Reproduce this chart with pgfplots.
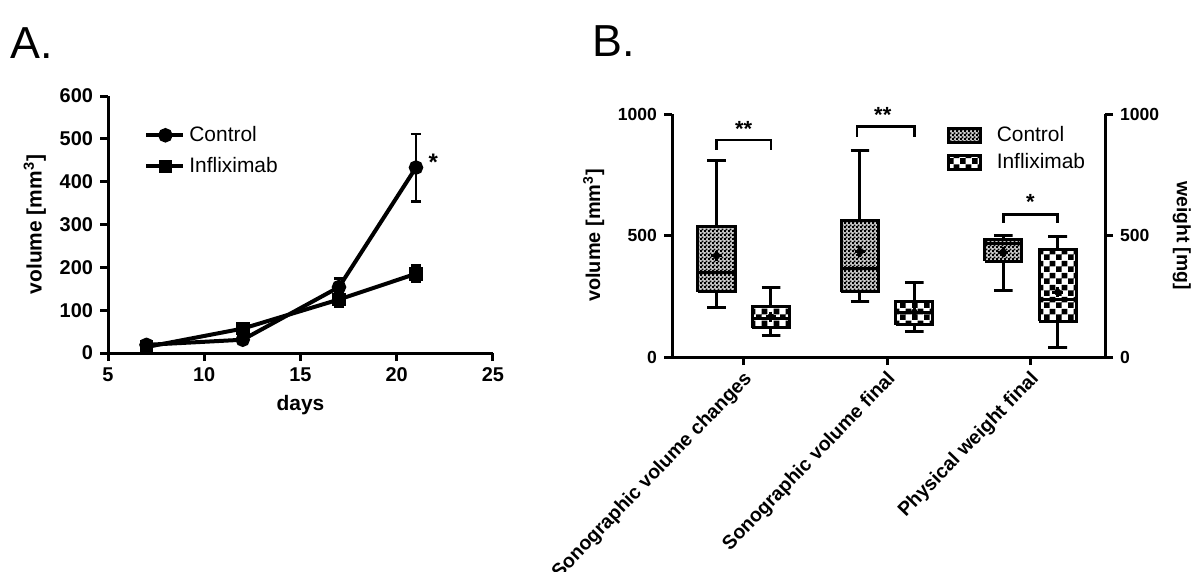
\documentclass[border=0pt]{standalone}
\usepackage{fontspec}
\setmainfont{Liberation Sans}
\usepackage{pgfplots}
\pgfplotsset{compat=1.18}
\usetikzlibrary{patterns}
\pgfdeclarepatternformonly{finecheck}{\pgfpointorigin}{\pgfpoint{2bp}{2bp}}{\pgfpoint{2bp}{2bp}}{%
  \pgfpathrectangle{\pgfpointorigin}{\pgfpoint{1.1bp}{1.1bp}}%
  \pgfpathrectangle{\pgfpoint{1bp}{1bp}}{\pgfpoint{1.1bp}{1.1bp}}%
  \pgfusepath{fill}}
\pgfdeclarepatternformonly{coarsecheck}{\pgfpointorigin}{\pgfpoint{6bp}{6bp}}{\pgfpoint{6bp}{6bp}}{%
  \pgfpathrectangle{\pgfpointorigin}{\pgfpoint{3bp}{3bp}}%
  \pgfpathrectangle{\pgfpoint{3bp}{3bp}}{\pgfpoint{3bp}{3bp}}%
  \pgfusepath{fill}}
\tikzset{ctrlfill/.style={fill=gray!40, postaction={pattern=finecheck}}}
\pgfplotsset{
  common/.style={
    scale only axis,
    axis line style={line width=1.5bp, black},
    tick style={line width=1.5bp, black},
    major tick length=4bp,
    tick align=outside,
    /pgf/number format/assume math mode=true,
    /pgf/number format/1000 sep={},
  },
  bx/.style={black, line width=1.5bp, forget plot, mark=none, line join=miter},
}
\begin{document}
\begin{tikzpicture}
\useasboundingbox (0,0) rectangle (600bp,-286bp);
\node[anchor=base west, inner sep=0pt, font=\fontsize{22.5}{24}\selectfont] at (5bp,-29bp) {A.};
\node[anchor=base west, inner sep=0pt, font=\fontsize{22.5}{24}\selectfont] at (296bp,-28bp) {B.};

% ---------------- Panel A ----------------
\begin{axis}[common,
  at={(54bp,-176.5bp)}, anchor=south west,
  width=192.5bp, height=128.5bp,
  xmin=5, xmax=25, ymin=0, ymax=600,
  axis x line*=bottom, axis y line*=left,
  xtick={5,10,15,20,25}, ytick={0,100,...,600},
  tick label style={font=\bfseries\fontsize{10}{10}\selectfont},
  label style={font=\bfseries\fontsize{10.5}{12}\selectfont},
  xlabel={days}, ylabel={volume [mm\textsuperscript{3}]},
  clip=false,
  legend style={at={(0.078,0.915)}, anchor=north west, draw=none, fill=none,
    font=\fontsize{10.5}{12}\selectfont, row sep=2.5bp},
  legend cell align=left,
  legend image code/.code={\draw[mark repeat=2, mark phase=2, #1] plot coordinates {(0bp,0bp)(9.5bp,0bp)(18.5bp,0bp)};},
]
\addplot[black, line width=2bp, mark=*, mark size=2.6bp,
  error bars/.cd, y dir=both, y explicit,
  error bar style={line width=1.2bp, solid},
  error mark options={rotate=90, mark size=2.6bp, line width=1.2bp}]
  coordinates {(7,19) +- (0,3) (12,31) +- (0,4) (17,154) +- (0,20) (21,433) +- (0,79)};
\addlegendentry{Control}
\addplot[black, line width=2bp, mark=square*, mark size=2.4bp,
  error bars/.cd, y dir=both, y explicit,
  error bar style={line width=1.2bp, solid},
  error mark options={rotate=90, mark size=2.6bp, line width=1.2bp}]
  coordinates {(7,14) +- (0,3) (12,57) +- (0,5) (17,125) +- (0,18) (21,185) +- (0,19)};
\addlegendentry{Infliximab}
\node[font=\bfseries\fontsize{12}{12}\selectfont] at (axis cs:21.9,445) {*};
\end{axis}

% ---------------- Panel B ----------------
\begin{axis}[common,
  at={(336bp,-178.5bp)}, anchor=south west,
  width=216.5bp, height=121.5bp,
  xmin=0.5, xmax=3.52, ymin=0, ymax=1000,
  axis x line*=bottom, axis y line*=left,
  xtick={1,2,3}, ytick={0,500,1000},
  xticklabels={Sonographic volume changes, Sonographic volume final, Physical weight final},
  x tick label style={rotate=46, anchor=north east, inner sep=1bp, xshift=-1bp, font=\bfseries\fontsize{9.8}{10}\selectfont},
  y tick label style={font=\bfseries\fontsize{8.8}{9}\selectfont},
  label style={font=\bfseries\fontsize{10}{12}\selectfont},
  ylabel={volume [mm\textsuperscript{3}]},
  clip=false,
  legend style={at={(0.621,0.985)}, anchor=north west, draw=none, fill=none,
    font=\fontsize{10.5}{12}\selectfont, row sep=0.5bp},
  legend cell align=left,
]
% ---- Control, Sonographic volume changes (pos 0.81)
\addplot[bx] coordinates {(0.745,203)(0.875,203)(0.81,203)(0.81,269)};
\addplot[bx] coordinates {(0.745,810)(0.875,810)(0.81,810)(0.81,536)};
\addplot[bx, ctrlfill] coordinates {(0.68,269)(0.94,269)(0.94,536)(0.68,536)(0.68,269)};
\addplot[bx] coordinates {(0.68,346)(0.94,346)};
% ---- Infliximab, Sonographic volume changes (pos 1.19)
\addplot[bx] coordinates {(1.125,89)(1.255,89)(1.19,89)(1.19,121)};
\addplot[bx] coordinates {(1.125,288)(1.255,288)(1.19,288)(1.19,206)};
\addplot[bx, pattern=coarsecheck] coordinates {(1.06,121)(1.32,121)(1.32,206)(1.06,206)(1.06,121)};
\addplot[bx] coordinates {(1.06,158)(1.32,158)};
% ---- Control, Sonographic volume final (pos 1.81)
\addplot[bx] coordinates {(1.745,227)(1.875,227)(1.81,227)(1.81,269)};
\addplot[bx] coordinates {(1.745,849)(1.875,849)(1.81,849)(1.81,563)};
\addplot[bx, ctrlfill] coordinates {(1.68,269)(1.94,269)(1.94,563)(1.68,563)(1.68,269)};
\addplot[bx] coordinates {(1.68,364)(1.94,364)};
% ---- Infliximab, Sonographic volume final (pos 2.19)
\addplot[bx] coordinates {(2.125,107)(2.255,107)(2.19,107)(2.19,133)};
\addplot[bx] coordinates {(2.125,306)(2.255,306)(2.19,306)(2.19,227)};
\addplot[bx, pattern=coarsecheck] coordinates {(2.06,133)(2.32,133)(2.32,227)(2.06,227)(2.06,133)};
\addplot[bx] coordinates {(2.06,185)(2.32,185)};
% ---- Control, Physical weight final (pos 2.81)
\addplot[bx] coordinates {(2.745,275)(2.875,275)(2.81,275)(2.81,395)};
\addplot[bx] coordinates {(2.745,500)(2.875,500)(2.81,500)(2.81,484)};
\addplot[bx, ctrlfill] coordinates {(2.68,395)(2.94,395)(2.94,484)(2.68,484)(2.68,395)};
\addplot[bx] coordinates {(2.68,468)(2.94,468)};
% ---- Infliximab, Physical weight final (pos 3.19)
\addplot[bx] coordinates {(3.125,41)(3.255,41)(3.19,41)(3.19,148)};
\addplot[bx] coordinates {(3.125,494)(3.255,494)(3.19,494)(3.19,444)};
\addplot[bx, pattern=coarsecheck] coordinates {(3.06,148)(3.32,148)(3.32,444)(3.06,444)(3.06,148)};
\addplot[bx] coordinates {(3.06,235)(3.32,235)};
% means
\addplot[forget plot, only marks, black, mark=+, mark size=2.6bp, line width=1.5bp]
  coordinates {(0.81,416) (1.19,165) (1.81,435) (2.19,185) (2.81,432) (3.19,267)};
\addplot[forget plot, only marks, black, mark=*, mark size=1.5bp]
  coordinates {(0.81,416) (1.19,165) (1.81,435) (2.19,185) (2.81,432) (3.19,267)};
% significance brackets
\addplot[bx, line width=1.4bp] coordinates {(0.81,852) (0.81,893) (1.19,893) (1.19,852)};
\addplot[bx, line width=1.4bp] coordinates {(1.79,907) (1.79,948) (2.19,948) (2.19,907)};
\addplot[bx, line width=1.4bp] coordinates {(2.81,552) (2.81,588) (3.19,588) (3.19,552)};
\node[font=\bfseries\fontsize{11}{11}\selectfont] at (axis cs:1.0,940) {**};
\node[font=\bfseries\fontsize{11}{11}\selectfont] at (axis cs:1.97,995) {**};
\node[font=\bfseries\fontsize{11}{11}\selectfont] at (axis cs:3.0,638) {*};
% legend
\addlegendimage{legend image code/.code={\draw[line width=1.5bp, ctrlfill] (0bp,-3.5bp) rectangle (16bp,3.5bp); \path[draw=none, fill=none] (0bp,0bp) rectangle (22bp,0.1bp);}}
\addlegendentry{Control}
\addlegendimage{legend image code/.code={\draw[line width=1.5bp, pattern=coarsecheck] (0bp,-3.5bp) rectangle (16bp,3.5bp); \path[draw=none, fill=none] (0bp,0bp) rectangle (22bp,0.1bp);}}
\addlegendentry{Infliximab}
\end{axis}

% right axis
\begin{axis}[common,
  at={(336bp,-178.5bp)}, anchor=south west,
  width=216.5bp, height=121.5bp,
  xmin=0.5, xmax=3.52, ymin=0, ymax=1000,
  axis x line=none, axis y line*=right,
  ytick={0,500,1000},
  y tick label style={font=\bfseries\fontsize{8.8}{9}\selectfont},
  label style={font=\bfseries\fontsize{9.7}{12}\selectfont},
  ylabel={weight [mg]}, ylabel style={rotate=180},
]
\addplot[draw=none, forget plot] coordinates {(1,0)};
\end{axis}
\end{tikzpicture}
\end{document}
